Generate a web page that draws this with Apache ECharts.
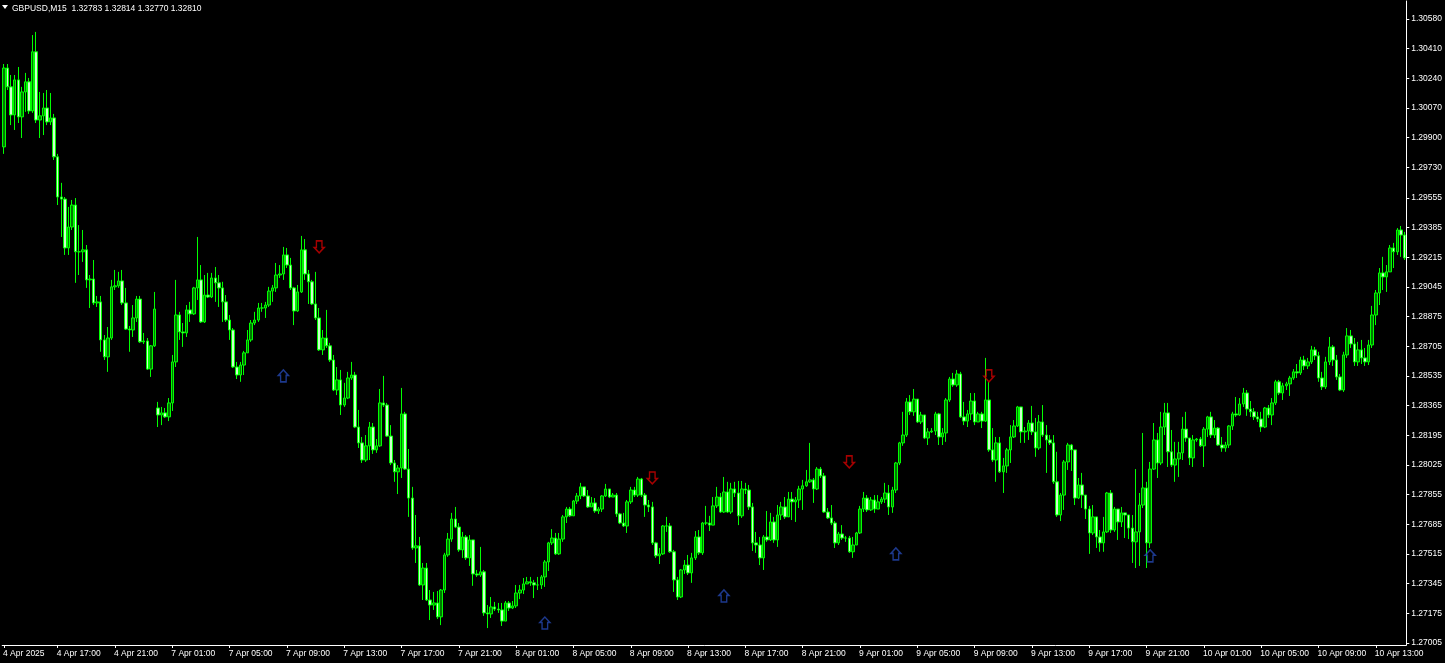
<!DOCTYPE html>
<html><head><meta charset="utf-8">
<script src="https://cdn.jsdelivr.net/npm/echarts@6/dist/echarts.min.js"></script>
<style>html,body{margin:0;padding:0;background:#000;overflow:hidden}#c{width:1445px;height:663px}</style>
</head><body><div id="c"></div>
<script>
// ---- header ----
const symbolName = 'GBPUSD,M15';
const quoteOHLC = ['1.32783', '1.32814', '1.32770', '1.32810'];

// ---- bars (M15), first bar 4 Apr 2025 13:15 ----
const firstBarTime = Date.UTC(2025, 3, 4, 13, 15);
const barMinutes = 15;
const barCount = 392;

// opens where the bar does not open at the previous close (first bar, weekend gap)
const gapOpens = {0: 1.29847, 43: 1.28351};

const closes = [
1.30299,1.30191,1.30030,1.30231,1.30019,1.30162,1.30220,1.30053,1.30392,1.30001,
1.30025,1.30070,1.29990,1.30013,1.29790,1.29560,1.29548,1.29268,1.29388,1.29514,
1.29246,1.29246,1.29257,1.29085,1.29090,1.28953,1.28959,1.28741,1.28644,1.28752,
1.29045,1.29051,1.29079,1.28953,1.28803,1.28798,1.28867,1.28975,1.28730,1.28735,
1.28574,1.28707,1.28918,1.28311,1.28323,1.28300,1.28380,1.28615,1.28884,1.28787,
1.28781,1.28913,1.28890,1.29039,1.29085,1.28844,1.28998,1.28987,1.29096,1.29068,
1.29039,1.28959,1.28855,1.28798,1.28586,1.28540,1.28597,1.28667,1.28741,1.28838,
1.28855,1.28924,1.28924,1.28941,1.29021,1.29039,1.29113,1.29119,1.29228,1.29170,
1.29039,1.28907,1.29016,1.29257,1.29119,1.29074,1.28947,1.28867,1.28684,1.28752,
1.28707,1.28626,1.28454,1.28512,1.28368,1.28408,1.28523,1.28540,1.28242,1.28151,
1.28053,1.28134,1.28242,1.28111,1.28134,1.28380,1.28368,1.28190,1.28036,1.27985,
1.28007,1.28317,1.28001,1.27835,1.27549,1.27561,1.27337,1.27434,1.27251,1.27222,
1.27234,1.27154,1.27308,1.27509,1.27600,1.27715,1.27669,1.27538,1.27612,1.27492,
1.27595,1.27400,1.27394,1.27412,1.27177,1.27171,1.27211,1.27199,1.27194,1.27130,
1.27234,1.27205,1.27217,1.27291,1.27308,1.27343,1.27355,1.27349,1.27337,1.27337,
1.27383,1.27469,1.27578,1.27606,1.27515,1.27600,1.27727,1.27772,1.27733,1.27818,
1.27847,1.27899,1.27847,1.27784,1.27807,1.27761,1.27772,1.27847,1.27887,1.27841,
1.27852,1.27744,1.27692,1.27675,1.27813,1.27881,1.27852,1.27944,1.27852,1.27795,
1.27784,1.27578,1.27504,1.27515,1.27675,1.27675,1.27527,1.27366,1.27268,1.27423,
1.27451,1.27406,1.27492,1.27612,1.27521,1.27692,1.27692,1.27680,1.27790,1.27841,
1.27755,1.27870,1.27755,1.27887,1.27864,1.27733,1.27887,1.27881,1.27784,1.27578,
1.27566,1.27492,1.27612,1.27595,1.27698,1.27595,1.27738,1.27784,1.27727,1.27829,
1.27813,1.27824,1.27887,1.27905,1.27928,1.27939,1.27887,1.28001,1.27962,1.27755,
1.27721,1.27692,1.27578,1.27629,1.27606,1.27606,1.27527,1.27566,1.27635,1.27772,
1.27835,1.27767,1.27824,1.27772,1.27813,1.27829,1.27864,1.27784,1.27881,1.28036,
1.28151,1.28196,1.28386,1.28329,1.28402,1.28271,1.28311,1.28179,1.28214,1.28219,
1.28317,1.28185,1.28208,1.28397,1.28517,1.28483,1.28546,1.28300,1.28276,1.28317,
1.28391,1.28271,1.28317,1.28276,1.28397,1.28111,1.28053,1.28151,1.27985,1.28019,
1.28111,1.28185,1.28248,1.28357,1.28214,1.28219,1.28265,1.28214,1.28122,1.28271,
1.28196,1.28168,1.28151,1.27928,1.27738,1.27852,1.28042,1.28139,1.28111,1.27835,
1.27910,1.27852,1.27772,1.27635,1.27727,1.27612,1.27578,1.27641,1.27864,1.27652,
1.27772,1.27698,1.27750,1.27738,1.27663,1.27584,1.27641,1.27795,1.27893,1.27578,
1.28001,1.28168,1.28036,1.28242,1.28323,1.28100,1.28024,1.28059,1.28094,1.28230,
1.28179,1.28065,1.28168,1.28173,1.28134,1.28230,1.28300,1.28196,1.28236,1.28139,
1.28122,1.28139,1.28248,1.28317,1.28311,1.28374,1.28437,1.28345,1.28329,1.28300,
1.28288,1.28242,1.28351,1.28311,1.28380,1.28501,1.28437,1.28478,1.28489,1.28523,
1.28558,1.28552,1.28626,1.28592,1.28615,1.28684,1.28650,1.28523,1.28472,1.28615,
1.28701,1.28626,1.28529,1.28454,1.28655,1.28764,1.28718,1.28615,1.28684,1.28638,
1.28615,1.28712,1.28884,1.29010,1.29125,1.29102,1.29131,1.29268,1.29246,1.29371,
1.29342,1.29211
];

const highs = [
1.30322,1.30322,1.30259,1.30259,1.30305,1.30191,1.30271,1.30242,1.30488,1.30506,
1.30162,1.30156,1.30173,1.30156,1.30036,1.29807,1.29641,1.29560,1.29503,1.29543,
1.29554,1.29399,1.29371,1.29285,1.29113,1.29199,1.28993,1.28993,1.28769,1.28815,
1.29085,1.29142,1.29131,1.29142,1.29039,1.28821,1.28941,1.28993,1.28993,1.28781,
1.28752,1.28712,1.29016,1.28386,1.28357,1.28351,1.28408,1.28655,1.29085,1.28902,
1.28838,1.28941,1.28959,1.29045,1.29331,1.29170,1.29113,1.29125,1.29125,1.29159,
1.29113,1.29074,1.28998,1.28884,1.28809,1.28615,1.28615,1.28678,1.28798,1.28855,
1.28902,1.28953,1.28953,1.28959,1.29045,1.29056,1.29182,1.29170,1.29274,1.29268,
1.29211,1.29045,1.29056,1.29337,1.29319,1.29142,1.29085,1.29131,1.28924,1.28798,
1.28913,1.28724,1.28655,1.28586,1.28569,1.28495,1.28558,1.28615,1.28558,1.28340,
1.28185,1.28196,1.28271,1.28265,1.28173,1.28460,1.28535,1.28380,1.28253,1.28053,
1.28024,1.28466,1.28329,1.28116,1.27899,1.27738,1.27612,1.27463,1.27463,1.27308,
1.27297,1.27302,1.27314,1.27521,1.27635,1.27750,1.27784,1.27692,1.27641,1.27623,
1.27623,1.27527,1.27423,1.27555,1.27423,1.27222,1.27268,1.27240,1.27234,1.27234,
1.27245,1.27245,1.27245,1.27337,1.27337,1.27377,1.27383,1.27383,1.27366,1.27383,
1.27394,1.27480,1.27584,1.27657,1.27635,1.27635,1.27738,1.27784,1.27784,1.27824,
1.27864,1.27922,1.27899,1.27881,1.27841,1.27835,1.27784,1.27852,1.27916,1.27887,
1.27864,1.27864,1.27750,1.27750,1.27824,1.27899,1.27899,1.27956,1.27950,1.27864,
1.27824,1.27813,1.27584,1.27549,1.27680,1.27727,1.27692,1.27538,1.27383,1.27428,
1.27480,1.27509,1.27521,1.27646,1.27652,1.27698,1.27790,1.27733,1.27841,1.27899,
1.27864,1.27956,1.27928,1.27922,1.27928,1.27933,1.27933,1.27922,1.27910,1.27807,
1.27641,1.27612,1.27623,1.27761,1.27750,1.27727,1.27795,1.27813,1.27841,1.27870,
1.27870,1.27841,1.27905,1.27939,1.27996,1.28151,1.27950,1.28013,1.28013,1.27979,
1.27778,1.27795,1.27703,1.27641,1.27680,1.27618,1.27618,1.27612,1.27641,1.27790,
1.27870,1.27852,1.27841,1.27852,1.27852,1.27841,1.27922,1.27910,1.27899,1.28042,
1.28157,1.28329,1.28408,1.28425,1.28460,1.28368,1.28329,1.28288,1.28236,1.28236,
1.28329,1.28323,1.28236,1.28408,1.28529,1.28552,1.28569,1.28558,1.28386,1.28340,
1.28437,1.28437,1.28329,1.28329,1.28638,1.28501,1.28236,1.28185,1.28185,1.28065,
1.28122,1.28253,1.28282,1.28363,1.28357,1.28242,1.28282,1.28363,1.28294,1.28311,
1.28368,1.28253,1.28196,1.28196,1.28100,1.27864,1.28053,1.28151,1.28145,1.28042,
1.27950,1.27979,1.27852,1.27790,1.27795,1.27669,1.27652,1.27727,1.27870,1.27881,
1.27784,1.27767,1.27784,1.27744,1.27738,1.27738,1.28001,1.27864,1.28208,1.27928,
1.28042,1.28265,1.28208,1.28329,1.28380,1.28380,1.28225,1.28157,1.28157,1.28300,
1.28329,1.28111,1.28196,1.28179,1.28185,1.28242,1.28306,1.28329,1.28282,1.28242,
1.28185,1.28157,1.28253,1.28329,1.28414,1.28408,1.28466,1.28454,1.28391,1.28351,
1.28329,1.28329,1.28357,1.28368,1.28408,1.28512,1.28512,1.28495,1.28501,1.28535,
1.28574,1.28603,1.28644,1.28650,1.28638,1.28707,1.28701,1.28673,1.28558,1.28644,
1.28758,1.28712,1.28655,1.28546,1.28673,1.28809,1.28798,1.28752,1.28730,1.28741,
1.28695,1.28741,1.28936,1.29027,1.29153,1.29217,1.29170,1.29285,1.29297,1.29382,
1.29394,1.29360
];

const lows = [
1.29807,1.30173,1.29972,1.29944,1.29984,1.29898,1.30048,1.30036,1.30042,1.29984,
1.29898,1.29915,1.29972,1.29972,1.29772,1.29514,1.29331,1.29228,1.29228,1.29371,
1.29068,1.29113,1.29188,1.29039,1.28924,1.28941,1.28930,1.28673,1.28626,1.28558,
1.28741,1.29027,1.29039,1.28941,1.28798,1.28673,1.28758,1.28844,1.28724,1.28718,
1.28569,1.28529,1.28701,1.28242,1.28253,1.28294,1.28276,1.28334,1.28586,1.28741,
1.28701,1.28758,1.28844,1.28884,1.28970,1.28838,1.28838,1.28981,1.28981,1.28959,
1.28930,1.28844,1.28844,1.28741,1.28580,1.28517,1.28501,1.28540,1.28667,1.28730,
1.28826,1.28844,1.28902,1.28867,1.28930,1.28959,1.29016,1.29096,1.29085,1.29153,
1.29027,1.28826,1.28902,1.29010,1.29085,1.28947,1.28941,1.28855,1.28678,1.28655,
1.28695,1.28615,1.28448,1.28425,1.28311,1.28357,1.28402,1.28512,1.28236,1.28122,
1.28036,1.28042,1.28053,1.28088,1.28094,1.28128,1.28357,1.28185,1.28024,1.27928,
1.27858,1.27950,1.27996,1.27727,1.27538,1.27463,1.27332,1.27251,1.27245,1.27136,
1.27194,1.27142,1.27107,1.27291,1.27498,1.27584,1.27663,1.27527,1.27492,1.27480,
1.27446,1.27332,1.27383,1.27383,1.27160,1.27090,1.27148,1.27188,1.27177,1.27102,
1.27183,1.27188,1.27199,1.27205,1.27256,1.27285,1.27343,1.27332,1.27262,1.27308,
1.27314,1.27326,1.27417,1.27566,1.27509,1.27509,1.27584,1.27692,1.27727,1.27738,
1.27801,1.27829,1.27841,1.27778,1.27784,1.27750,1.27744,1.27755,1.27841,1.27835,
1.27841,1.27727,1.27686,1.27669,1.27635,1.27801,1.27841,1.27841,1.27841,1.27727,
1.27755,1.27566,1.27492,1.27457,1.27509,1.27641,1.27521,1.27297,1.27251,1.27262,
1.27400,1.27394,1.27349,1.27480,1.27509,1.27509,1.27680,1.27646,1.27715,1.27778,
1.27750,1.27750,1.27750,1.27744,1.27841,1.27680,1.27721,1.27858,1.27767,1.27532,
1.27521,1.27451,1.27423,1.27584,1.27589,1.27578,1.27555,1.27709,1.27715,1.27727,
1.27709,1.27698,1.27778,1.27767,1.27899,1.27922,1.27807,1.27881,1.27950,1.27750,
1.27715,1.27680,1.27549,1.27566,1.27595,1.27584,1.27521,1.27492,1.27584,1.27629,
1.27755,1.27755,1.27761,1.27750,1.27801,1.27801,1.27807,1.27738,1.27750,1.27864,
1.28024,1.28134,1.28185,1.28311,1.28306,1.28265,1.28259,1.28173,1.28139,1.28208,
1.28196,1.28139,1.28139,1.28157,1.28386,1.28472,1.28472,1.28294,1.28253,1.28242,
1.28282,1.28253,1.28271,1.28236,1.28271,1.28100,1.28042,1.27928,1.27979,1.27864,
1.27979,1.28036,1.28179,1.28242,1.28151,1.28151,1.28168,1.28196,1.28071,1.28111,
1.28185,1.27979,1.28139,1.27916,1.27727,1.27703,1.27767,1.27996,1.27990,1.27795,
1.27829,1.27778,1.27715,1.27515,1.27623,1.27549,1.27527,1.27527,1.27635,1.27635,
1.27641,1.27595,1.27669,1.27606,1.27600,1.27463,1.27434,1.27446,1.27778,1.27434,
1.27549,1.27996,1.27950,1.28024,1.28196,1.28013,1.28013,1.27928,1.27956,1.28053,
1.28157,1.28024,1.28013,1.28157,1.28128,1.28013,1.28185,1.28179,1.28179,1.28134,
1.28100,1.28100,1.28122,1.28225,1.28300,1.28306,1.28357,1.28306,1.28300,1.28282,
1.28271,1.28214,1.28236,1.28294,1.28253,1.28368,1.28425,1.28397,1.28454,1.28420,
1.28512,1.28523,1.28540,1.28569,1.28574,1.28603,1.28626,1.28501,1.28454,1.28460,
1.28597,1.28592,1.28512,1.28448,1.28443,1.28638,1.28695,1.28592,1.28592,1.28603,
1.28592,1.28597,1.28695,1.28826,1.28941,1.29027,1.29016,1.29142,1.29153,1.29228,
1.29217,1.29199
];

// ---- signal arrows (bar index, price) ----
const upArrowBars = [78, 151, 201, 249, 320];
const upArrowPrices = [1.28535, 1.27119, 1.27274, 1.27515, 1.27504];
const downArrowBars = [88, 181, 236, 275];
const downArrowPrices = [1.29274, 1.27950, 1.28042, 1.28535];

// ---- price scale labels ----
const priceTicks = [1.30580,1.30410,1.30240,1.30070,1.29900,1.29730,1.29555,1.29385,1.29215,1.29045,1.28875,
                    1.28705,1.28535,1.28365,1.28195,1.28025,1.27855,1.27685,1.27515,1.27345,1.27175,1.27005];
const priceMin = 1.26993, priceMax = 1.30683;

// ---- build ----
const months = ['Jan','Feb','Mar','Apr','May','Jun','Jul','Aug','Sep','Oct','Nov','Dec'];
const cats = [], timeLabels = [];
let t = firstBarTime;
for (let i = 0; i < barCount; i++) {
  const d = new Date(t);
  cats.push(String(t));
  const hh = d.getUTCHours(), mm = d.getUTCMinutes();
  if (i === 0) timeLabels.push(d.getUTCDate() + ' ' + months[d.getUTCMonth()] + ' ' + d.getUTCFullYear());
  else if (mm === 0 && hh % 4 === 1) timeLabels.push(d.getUTCDate() + ' ' + months[d.getUTCMonth()] + ' ' + String(hh).padStart(2,'0') + ':00');
  else timeLabels.push('');
  t += barMinutes * 60000;
  if (new Date(t).getUTCDay() === 6) t += 2 * 86400000;
}
const candles = closes.map((c, i) => {
  const o = (i in gapOpens) ? gapOpens[i] : closes[i - 1];
  const h = Math.max(highs[i], o, c), l = Math.min(lows[i], o, c);
  return [o, c, l, h];
});
const upPts = upArrowBars.map((b, k) => [b, upArrowPrices[k]]);
const downPts = downArrowBars.map((b, k) => [b, downArrowPrices[k]]);

const FONT = 'Liberation Sans';
const chart = echarts.init(document.getElementById('c'), null, {renderer: 'canvas'});
chart.setOption({
  backgroundColor: '#000',
  animation: false,
  grid: {left: 0, right: 35, top: 1, bottom: 18},
  xAxis: {
    type: 'category', data: cats, boundaryGap: true,
    axisLine: {show: true, lineStyle: {color: '#fff', width: 1}},
    axisTick: {show: true, alignWithLabel: true, length: 3, lineStyle: {color: '#fff'},
               interval: (idx) => timeLabels[idx] !== ''},
    axisLabel: {show: true, interval: (idx) => timeLabels[idx] !== '', formatter: (v, idx) => timeLabels[idx],
                color: '#fff', fontSize: 8.5, fontFamily: FONT, align: 'left', margin: 4,
                padding: [0, 0, 0, -1]},
    splitLine: {show: false}
  },
  yAxis: {
    type: 'value', position: 'right', min: priceMin, max: priceMax, scale: true,
    splitLine: {show: false},
    axisLine: {show: true, lineStyle: {color: '#fff', width: 1}},
    axisTick: {show: true, length: 3, lineStyle: {color: '#fff'}, customValues: priceTicks},
    axisLabel: {show: true, color: '#fff', fontSize: 8.5, fontFamily: FONT, margin: 5,
                customValues: priceTicks, formatter: (v) => v.toFixed(5)}
  },
  series: [
    {type: 'candlestick', data: candles, barWidth: 3,
     itemStyle: {color: '#007800', color0: '#ccffcc', borderColor: '#00ff00', borderColor0: '#00ff00', borderWidth: 1}},
    {type: 'scatter', data: upPts, z: 5,
     symbol: 'path://M4.5,0 L9,5 L7,5 L7,11 L2,11 L2,5 L0,5 Z', symbolSize: [10, 12],
     itemStyle: {color: 'rgba(0,0,0,0)', borderColor: '#2447b0', borderWidth: 1.5}},
    {type: 'scatter', data: downPts, z: 5,
     symbol: 'path://M2,0 L7,0 L7,6 L9,6 L4.5,11 L0,6 L2,6 Z', symbolSize: [10, 12],
     itemStyle: {color: 'rgba(0,0,0,0)', borderColor: '#d00000', borderWidth: 1.5}}
  ],
  graphic: [
    {type: 'polygon', shape: {points: [[2, 5], [8, 5], [5, 9]]}, style: {fill: '#fff'}},
    {type: 'text', left: 12, top: 4,
     style: {text: symbolName + '  ' + quoteOHLC.join(' '), fill: '#fff', font: '8.5px "' + FONT + '"'}}
  ]
});
</script></body></html>
